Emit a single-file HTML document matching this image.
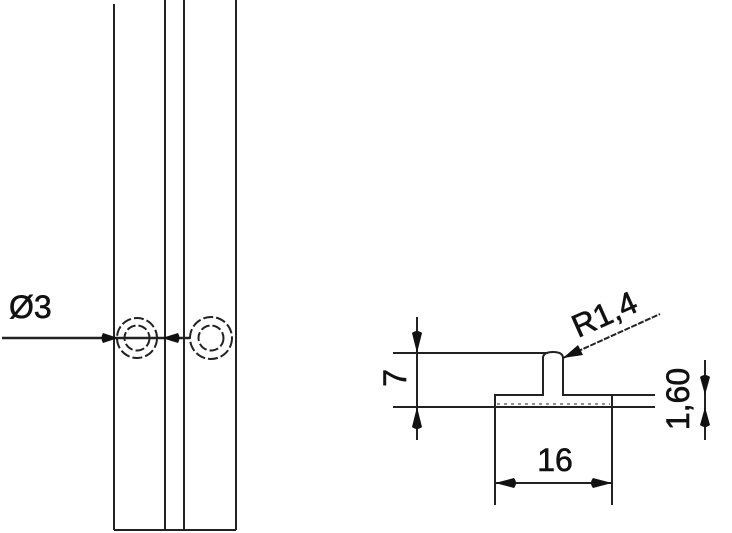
<!DOCTYPE html>
<html><head><style>html,body{margin:0;padding:0;background:#fff}svg{display:block}</style></head>
<body>
<svg width="732" height="533" viewBox="0 0 732 533" xmlns="http://www.w3.org/2000/svg" font-family="Liberation Sans, sans-serif">
<g stroke="#222" fill="none" stroke-width="2">
<line x1="114" y1="4" x2="114" y2="530"/>
<line x1="165" y1="0" x2="165" y2="530"/>
<line x1="184" y1="0" x2="184" y2="530"/>
<line x1="236" y1="0" x2="236" y2="530"/>
<line x1="114" y1="530" x2="236" y2="530"/>
<line x1="2" y1="338" x2="190" y2="338" stroke-width="2.5"/>
<circle cx="137" cy="338" r="20" stroke-dasharray="10 3"/>
<circle cx="137" cy="338" r="12.5" stroke-dasharray="9 3"/>
<circle cx="211" cy="338" r="21" stroke-dasharray="10 3"/>
<circle cx="211" cy="338" r="12.5" stroke-dasharray="9 3"/>
<line x1="393" y1="353" x2="548" y2="353"/>
<line x1="393" y1="407" x2="655" y2="407"/>
<line x1="612" y1="395" x2="655" y2="395"/>
<path d="M495 505 V395 H543 V358 Q543 352 553 352 Q563 352 563 358 V395 H612 V505"/>
<line x1="497" y1="404" x2="610" y2="404" stroke-width="1" stroke-dasharray="3 4"/>
<line x1="417" y1="317" x2="417" y2="440"/>
<line x1="705" y1="360" x2="705" y2="440"/>
<line x1="495" y1="483" x2="612" y2="483"/>
<line x1="563" y1="358" x2="660" y2="314" stroke-width="2" stroke-dasharray="6 1.5"/>
</g>
<g fill="#111">
<path d="M103 333 L118 338 L103 343 Q100 338 103 333Z"/>
<path d="M178 333 L162 338 L178 343 Q181 338 178 333Z"/>
<path d="M412 333 L417 353 L422 333 Q417 329 412 333Z"/>
<path d="M412 427 L417 407 L422 427 Q417 431 412 427Z"/>
<path d="M700 377 L705 395 L710 377 Q705 373 700 377Z"/>
<path d="M700 425 L705 407 L710 425 Q705 429 700 425Z"/>
<path d="M514 478 L495 483 L514 488 Q518 483 514 478Z"/>
<path d="M593 478 L612 483 L593 488 Q589 483 593 478Z"/>
<path d="M563 358 L578 345 L583 355 Z"/>
</g>
<g fill="#111" stroke="#111" stroke-width="0.6" font-size="32">
<text x="9" y="318">Ø3</text>
<text x="555" y="471" text-anchor="middle">16</text>
<text transform="translate(406 378) rotate(-90)" text-anchor="middle">7</text>
<text transform="translate(689 399) rotate(-90)" text-anchor="middle">1,60</text>
<text transform="translate(578 338) rotate(-24)">R1,4</text>
</g>
</svg>
</body></html>
